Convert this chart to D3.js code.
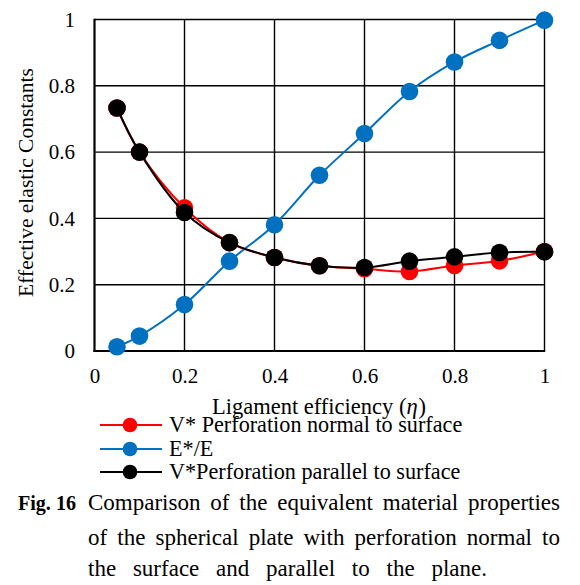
<!DOCTYPE html>
<html><head><meta charset="utf-8">
<script src="https://cdn.jsdelivr.net/npm/d3@7"></script>
<style>body{margin:0;background:#fff}svg{display:block}</style>
</head><body>
<svg id="c" width="580" height="585"></svg>
<script>
const xValues = [0.05, 0.1, 0.2, 0.3, 0.4, 0.5, 0.6, 0.7, 0.8, 0.9, 1.0];
const vNormal = [0.733, 0.6, 0.432, 0.327, 0.282, 0.257, 0.248, 0.240, 0.258, 0.272, 0.300];
const eRatio = [0.013, 0.045, 0.140, 0.271, 0.381, 0.530, 0.656, 0.783, 0.872, 0.937, 0.998];
const vParallel = [0.733, 0.600, 0.418, 0.327, 0.282, 0.257, 0.252, 0.271, 0.284, 0.297, 0.299];
const xTicks = [0, 0.2, 0.4, 0.6, 0.8, 1];
const yTicks = [0, 0.2, 0.4, 0.6, 0.8, 1];
const seriesNames = ["V* Perforation normal to surface", "E*/E", "V*Perforation parallel to surface"];
const seriesColors = ["#ff0000", "#0070c0", "#000000"];
const captionLines = ["Comparison of the equivalent material properties", "of the spherical plate with perforation normal to", "the surface and parallel to the plane."];

const font = "Liberation Serif, Times New Roman, serif";
const svg = d3.select("#c");
const L = 94.5, R = 544.5, T = 19.5, B = 351;
const x = d3.scaleLinear().domain([0, 1]).range([L, R]);
const y = d3.scaleLinear().domain([0, 1]).range([B, T]);

// grid
const g = svg.append("g");
g.selectAll(".vg").data(xTicks.slice(1)).join("line")
  .attr("x1", d => x(d)).attr("x2", d => x(d)).attr("y1", T).attr("y2", B)
  .attr("stroke", "#000").attr("stroke-width", 1.4);
g.selectAll(".hg").data(yTicks.slice(1)).join("line")
  .attr("x1", L).attr("x2", R).attr("y1", d => y(d)).attr("y2", d => y(d))
  .attr("stroke", "#000").attr("stroke-width", 1.4);

// axes
const xAxis = d3.axisBottom(x).tickValues(xTicks).tickFormat(d => d3.format("")(d)).tickSize(0).tickPadding(17);
const yAxis = d3.axisLeft(y).tickValues(yTicks).tickFormat(d => d3.format("")(d)).tickSize(0).tickPadding(19.5);
const gx = svg.append("g").attr("transform", `translate(0,${B})`).call(xAxis);
const gy = svg.append("g").attr("transform", `translate(${L},0)`).call(yAxis);
[gx, gy].forEach(a => {
  a.attr("font-family", font).attr("font-size", 21);
  a.select(".domain").remove();
  a.selectAll("text").attr("fill", "#000");
});
svg.append("line").attr("x1", L).attr("x2", L).attr("y1", T - 0.7).attr("y2", B + 1).attr("stroke", "#000").attr("stroke-width", 2.2);
svg.append("line").attr("x1", L - 1).attr("x2", R + 0.7).attr("y1", B).attr("y2", B).attr("stroke", "#000").attr("stroke-width", 2.2);

// series
const series = [vNormal, eRatio, vParallel];
const line = d3.line().x((d, i) => x(xValues[i])).y(d => y(d)).curve(d3.curveCatmullRom.alpha(0.5));
series.forEach((s, k) => {
  const sg = svg.append("g");
  sg.append("path").datum(s).attr("d", line).attr("fill", "none")
    .attr("stroke", seriesColors[k]).attr("stroke-width", 2);
  sg.selectAll("circle").data(s).join("circle")
    .attr("cx", (d, i) => x(xValues[i])).attr("cy", d => y(d)).attr("r", 8.8)
    .attr("fill", seriesColors[k]);
});

// axis titles
svg.append("text").attr("transform", `translate(33,182.5) rotate(-90)`)
  .attr("text-anchor", "middle").attr("font-family", font).attr("font-size", 21.5)
  .text("Effective elastic Constants");
const xtParts = [["Ligament efficiency (", "normal"], ["η", "italic"], [")", "normal"]];
const xtEls = xtParts.map(p => svg.append("text").attr("y", 414).attr("font-family", font)
  .attr("font-size", 22.5).attr("font-style", p[1]).text(p[0]));
const xtW = xtEls.map(e => e.node().getComputedTextLength());
let xtX = 318.5 - d3.sum(xtW) / 2;
xtEls.forEach((e, i) => { e.attr("x", xtX); xtX += xtW[i] + (i === 1 ? 1 : 0); });

// legend
const legY = [425, 449, 472];
seriesNames.forEach((n, k) => {
  const lg = svg.append("g");
  lg.append("line").attr("x1", 100).attr("x2", 162).attr("y1", legY[k]).attr("y2", legY[k])
    .attr("stroke", seriesColors[k]).attr("stroke-width", 2);
  lg.append("circle").attr("cx", 130).attr("cy", legY[k]).attr("r", 7.3).attr("fill", seriesColors[k]);
  lg.append("text").attr("x", 169).attr("y", legY[k] + 7).attr("font-family", font).attr("font-size", 22.2).text(n);
});

// caption
const capFS = 23;
const fig = svg.append("text").attr("x", 18).attr("y", 510).attr("font-family", font).attr("font-size", capFS)
  .attr("font-weight", "bold").text("Fig. 16");
const fw = fig.node().getComputedTextLength();
fig.attr("font-size", capFS * 58 / fw);
const capX = 88, capEnd = [560, 560, 487], capY = [510, 545, 576];
captionLines.forEach((t, k) => {
  const el = svg.append("text").attr("x", capX).attr("y", capY[k]).attr("font-family", font)
    .attr("font-size", capFS).text(t);
  const w = el.node().getComputedTextLength();
  const gaps = t.split(" ").length - 1;
  const ws = (capEnd[k] - capX - w) / gaps;
  el.attr("word-spacing", ws);
});
</script>
</body></html>
